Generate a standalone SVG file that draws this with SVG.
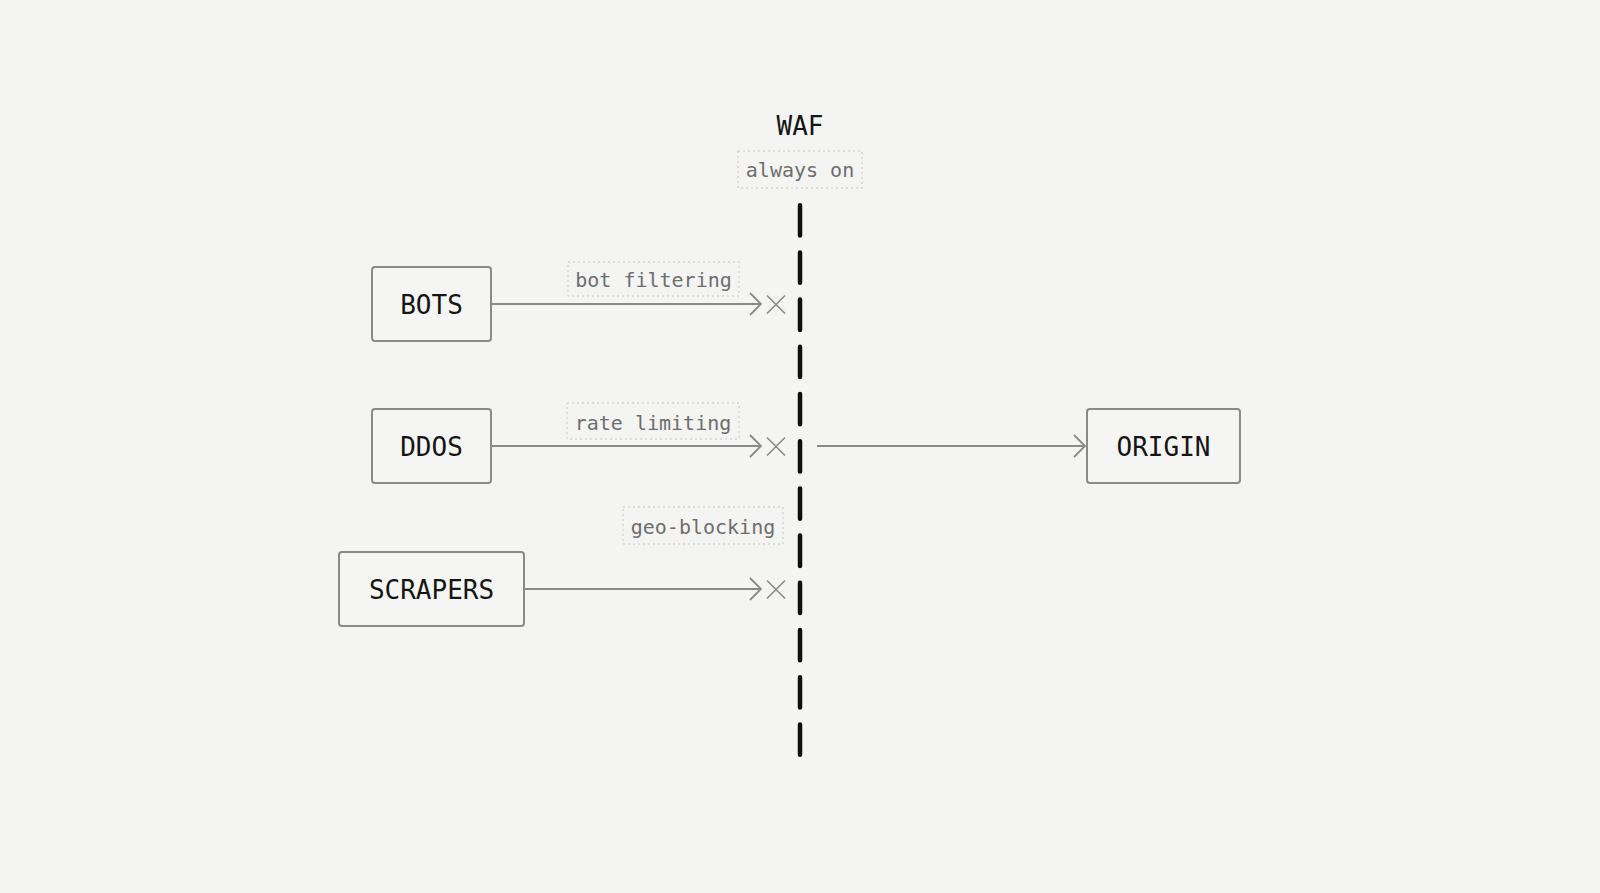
<svg xmlns="http://www.w3.org/2000/svg" width="1600" height="893" viewBox="0 0 1600 893">
  <style>
    .node rect { fill: #f5f5f3; stroke: #8a8a8a; stroke-width: 2; }
    .node text { font-family: "DejaVu Sans Mono", "Liberation Mono", monospace; font-size: 26px; fill: #151515; text-anchor: middle; }
    .title { font-family: "DejaVu Sans Mono", "Liberation Mono", monospace; font-size: 26px; fill: #151515; text-anchor: middle; }
    .lbl rect { fill: none; stroke: #c4c4c4; stroke-width: 1; stroke-dasharray: 2 3; }
    .lbl text { font-family: "DejaVu Sans Mono", "Liberation Mono", monospace; font-size: 20px; fill: #6e6e6e; text-anchor: middle; }
    .edge { stroke: #8a8a8a; stroke-width: 1.8; fill: none; }
    .block { stroke: #8a8a8a; stroke-width: 1.6; fill: none; }
    .waf { stroke: #0d0d0d; stroke-width: 4.5; stroke-linecap: round; stroke-dasharray: 30.3 16.9; fill: none; }
  </style>
  <defs>
    <marker id="chev" viewBox="0 0 13 24" refX="12" refY="12" markerWidth="13" markerHeight="24" markerUnits="userSpaceOnUse" orient="auto">
      <path d="M1,1 L12,12 L1,23" fill="none" stroke="#8a8a8a" stroke-width="1.8"/>
    </marker>
    <path id="xmark" d="M-9,-9 L9,9 M-9,9 L9,-9" class="block"/>
  </defs>
  <rect x="0" y="0" width="1600" height="893" fill="#f4f4f2"/>

  <g id="waf">
    <text class="title" x="800" y="135">WAF</text>
    <g class="lbl">
      <rect x="738" y="151" width="124" height="37"/>
      <text x="800" y="177">always on</text>
    </g>
    <line class="waf" x1="800" y1="205.2" x2="800" y2="755"/>
  </g>

  <g id="bots" class="node">
    <rect x="372" y="267" width="119" height="74" rx="3"/>
    <text x="431.5" y="313.5">BOTS</text>
  </g>
  <g id="ddos" class="node">
    <rect x="372" y="409" width="119" height="74" rx="3"/>
    <text x="431.5" y="455.5">DDOS</text>
  </g>
  <g id="scrapers" class="node">
    <rect x="339" y="552" width="185" height="74" rx="3"/>
    <text x="431.5" y="598.5">SCRAPERS</text>
  </g>
  <g id="origin" class="node">
    <rect x="1087" y="409" width="153" height="74" rx="3"/>
    <text x="1163.5" y="455.5">ORIGIN</text>
  </g>

  <g id="connectors">
    <line class="edge" x1="491" y1="304" x2="761" y2="304" marker-end="url(#chev)"/>
    <line class="edge" x1="491" y1="446" x2="761" y2="446" marker-end="url(#chev)"/>
    <line class="edge" x1="524" y1="589" x2="761" y2="589" marker-end="url(#chev)"/>
    <line class="edge" x1="817" y1="446" x2="1085" y2="446" marker-end="url(#chev)"/>
    <use href="#xmark" x="776" y="304.5"/>
    <use href="#xmark" x="776" y="446.5"/>
    <use href="#xmark" x="776" y="589.5"/>
    <g class="lbl">
      <rect x="568" y="262" width="171" height="34"/>
      <text x="653.5" y="287">bot filtering</text>
    </g>
    <g class="lbl">
      <rect x="567" y="403" width="172" height="36"/>
      <text x="653" y="429.5">rate limiting</text>
    </g>
    <g class="lbl">
      <rect x="623" y="507" width="160" height="37"/>
      <text x="703" y="534">geo-blocking</text>
    </g>
  </g>
</svg>
